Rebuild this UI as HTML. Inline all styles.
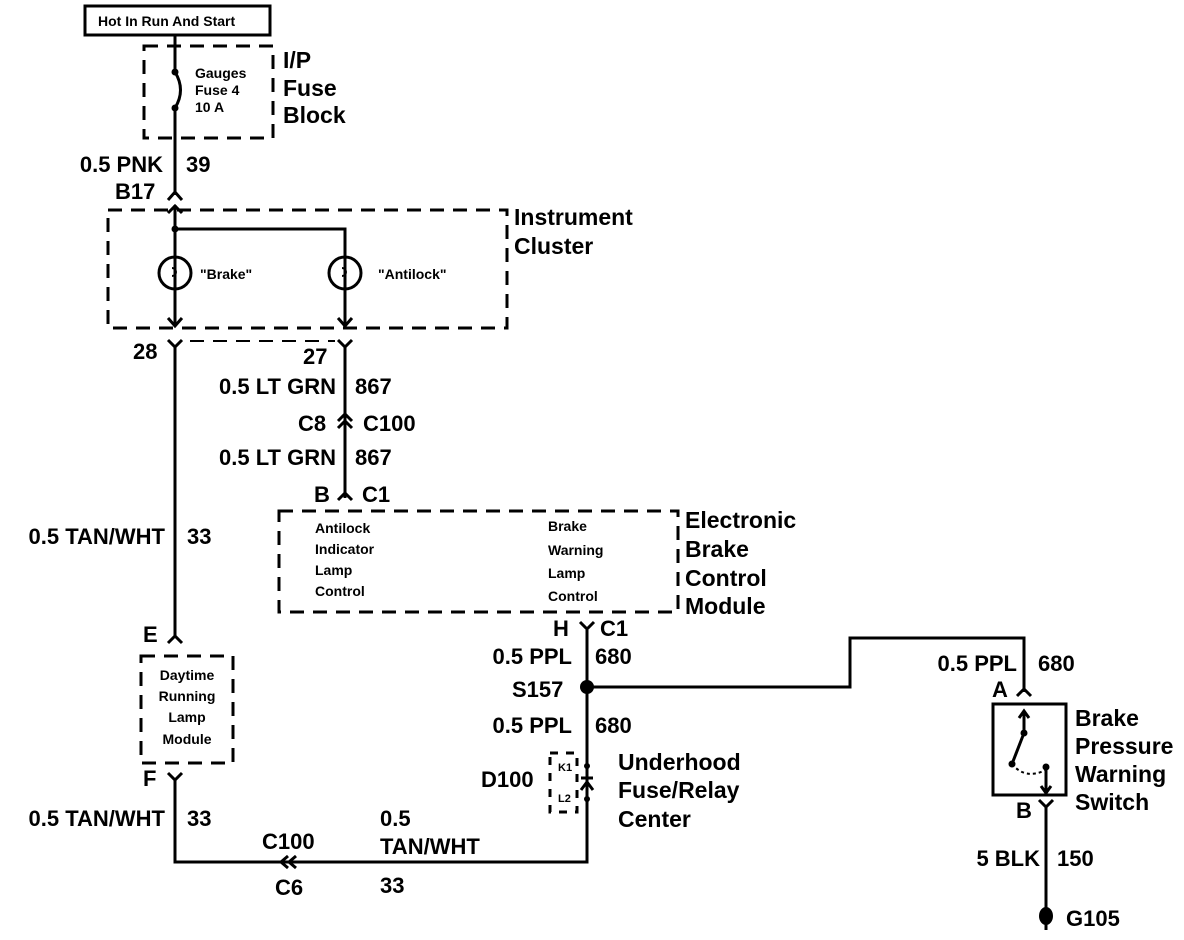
<!DOCTYPE html>
<html><head><meta charset="utf-8"><style>
body{margin:0;background:#fff}
svg{display:block}
text{font-family:"Liberation Sans",sans-serif;font-weight:bold;fill:#000}
.b{font-size:22px}
.s{font-size:14px}
.l{font-size:23px}
</style></head><body>
<svg width="1184" height="940" viewBox="0 0 1184 940" xmlns="http://www.w3.org/2000/svg">
<g fill="none" stroke="#000" stroke-width="3">
<rect x="85" y="6" width="185" height="29"/>
<g stroke-dasharray="14,9">
<rect x="144" y="46" width="129" height="92"/>
<rect x="108" y="210" width="399" height="118"/>
<rect x="279" y="511" width="399" height="101"/>
<rect x="141" y="656" width="92" height="107"/>
<rect x="550" y="753" width="27" height="59" stroke-dasharray="8,8"/>
<line x1="190" y1="341" x2="335" y2="341" stroke-width="2"/>
</g>
<!-- top wire -->
<line x1="175" y1="35" x2="175" y2="72"/>
<path d="M175 72 Q186 90 175 108"/>
<line x1="175" y1="108" x2="175" y2="195"/>
<path d="M168 200 L175 192 L182 200"/>
<line x1="175" y1="205" x2="175" y2="325"/>
<path d="M168 213 L175 206 L182 213"/>
<polyline points="175,229 345,229 345,325"/>
<circle cx="175" cy="273" r="16"/>
<circle cx="345" cy="273" r="16"/>
<path d="M168 318 L175 326 L182 318"/>
<path d="M338 318 L345 326 L352 318"/>
<!-- connectors 28/27 -->
<path d="M168 340 L175 347 L182 340"/>
<path d="M338 340 L345 347 L352 340"/>
<line x1="175" y1="347" x2="175" y2="638"/>
<line x1="345" y1="347" x2="345" y2="498"/>
<path d="M338 421 L345 414 L352 421 M338 428 L345 421 L352 428"/>
<path d="M338 500 L345 493 L352 500"/>
<!-- E connector -->
<path d="M168 643 L175 636 L182 643"/>
<path d="M168 773 L175 780 L182 773"/>
<polyline points="175,780 175,862 587,862 587,630"/>
<path d="M580 622 L587 629 L594 622"/>
<path d="M288 856 L281 862 L288 868 M296 856 L289 862 L296 868"/>
<polyline points="587,687 850,687 850,638 1024,638 1024,692"/>
<path d="M1017 696 L1024 689 L1031 696"/>
<rect x="993" y="704" width="73" height="91"/>
<path d="M1039 800 L1046 807 L1053 800"/>
<line x1="1046" y1="807" x2="1046" y2="930"/>
<line x1="1024" y1="712" x2="1024" y2="733"/>
<line x1="1024" y1="733" x2="1012" y2="764"/>
<path d="M1012 764 Q1025 780 1046 770" stroke-dasharray="3,3" stroke-width="2"/>
<line x1="1046" y1="767" x2="1046" y2="792"/>
<path d="M1019 718 L1024 711 L1029 718 M1041 786 L1046 793 L1051 786"/>
<path d="M581 778 L593 778 M581 790 L587 782 L593 790"/>
</g>
<g fill="#000">
<circle cx="175" cy="72" r="3.5"/><circle cx="175" cy="108" r="3.5"/>
<circle cx="175" cy="229" r="3.5"/>
<circle cx="587" cy="687" r="7"/>
<circle cx="1024" cy="733" r="3.5"/><circle cx="1012" cy="764" r="3.5"/><circle cx="1046" cy="767" r="3.5"/>
<circle cx="587" cy="766" r="3"/><circle cx="587" cy="799" r="3"/>
<ellipse cx="1046" cy="916" rx="7" ry="9"/>
<path d="M172 268 a3 3 0 1 1 0 8 M342 268 a3 3 0 1 1 0 8" stroke="#000" stroke-width="2" fill="none"/>
</g>
<text x="98" y="26" class="s">Hot In Run And Start</text>
<text x="195" y="78" class="s">Gauges</text>
<text x="195" y="95" class="s">Fuse 4</text>
<text x="195" y="112" class="s">10 A</text>
<text x="283" y="68" class="l">I/P</text>
<text x="283" y="96" class="l">Fuse</text>
<text x="283" y="123" class="l">Block</text>
<text x="163" y="172" class="b" text-anchor="end">0.5 PNK</text>
<text x="186" y="172" class="b">39</text>
<text x="115" y="199" class="b">B17</text>
<text x="514" y="225" class="l">Instrument</text>
<text x="514" y="254" class="l">Cluster</text>
<text x="200" y="279" class="s">"Brake"</text>
<text x="378" y="279" class="s">"Antilock"</text>
<text x="133" y="359" class="b">28</text>
<text x="303" y="364" class="b">27</text>
<text x="336" y="394" class="b" text-anchor="end">0.5 LT GRN</text>
<text x="355" y="394" class="b">867</text>
<text x="298" y="431" class="b">C8</text>
<text x="363" y="431" class="b">C100</text>
<text x="336" y="465" class="b" text-anchor="end">0.5 LT GRN</text>
<text x="355" y="465" class="b">867</text>
<text x="314" y="502" class="b">B</text>
<text x="362" y="502" class="b">C1</text>
<text x="165" y="544" class="b" text-anchor="end">0.5 TAN/WHT</text>
<text x="187" y="544" class="b">33</text>
<text x="315" y="533" class="s">Antilock</text>
<text x="315" y="554" class="s">Indicator</text>
<text x="315" y="575" class="s">Lamp</text>
<text x="315" y="596" class="s">Control</text>
<text x="548" y="531" class="s">Brake</text>
<text x="548" y="555" class="s">Warning</text>
<text x="548" y="578" class="s">Lamp</text>
<text x="548" y="601" class="s">Control</text>
<text x="685" y="528" class="l">Electronic</text>
<text x="685" y="557" class="l">Brake</text>
<text x="685" y="586" class="l">Control</text>
<text x="685" y="614" class="l">Module</text>
<text x="553" y="636" class="b">H</text>
<text x="600" y="636" class="b">C1</text>
<text x="572" y="664" class="b" text-anchor="end">0.5 PPL</text>
<text x="595" y="664" class="b">680</text>
<text x="512" y="697" class="b">S157</text>
<text x="572" y="733" class="b" text-anchor="end">0.5 PPL</text>
<text x="595" y="733" class="b">680</text>
<text x="481" y="787" class="b">D100</text>
<text x="558" y="771" font-size="11" style="font-size:11px">K1</text>
<text x="558" y="802" style="font-size:11px">L2</text>
<text x="618" y="770" class="l">Underhood</text>
<text x="618" y="798" class="l">Fuse/Relay</text>
<text x="618" y="827" class="l">Center</text>
<text x="143" y="642" class="b">E</text>
<text x="187" y="680" class="s" text-anchor="middle">Daytime</text>
<text x="187" y="701" class="s" text-anchor="middle">Running</text>
<text x="187" y="722" class="s" text-anchor="middle">Lamp</text>
<text x="187" y="744" class="s" text-anchor="middle">Module</text>
<text x="143" y="786" class="b">F</text>
<text x="165" y="826" class="b" text-anchor="end">0.5 TAN/WHT</text>
<text x="187" y="826" class="b">33</text>
<text x="262" y="849" class="b">C100</text>
<text x="275" y="895" class="b">C6</text>
<text x="380" y="826" class="b">0.5</text>
<text x="380" y="854" class="b">TAN/WHT</text>
<text x="380" y="893" class="b">33</text>
<text x="1017" y="671" class="b" text-anchor="end">0.5 PPL</text>
<text x="1038" y="671" class="b">680</text>
<text x="992" y="697" class="b">A</text>
<text x="1075" y="726" class="l">Brake</text>
<text x="1075" y="754" class="l">Pressure</text>
<text x="1075" y="782" class="l">Warning</text>
<text x="1075" y="810" class="l">Switch</text>
<text x="1016" y="818" class="b">B</text>
<text x="1040" y="866" class="b" text-anchor="end">5 BLK</text>
<text x="1057" y="866" class="b">150</text>
<text x="1066" y="926" class="b">G105</text>
</svg>
</body></html>
